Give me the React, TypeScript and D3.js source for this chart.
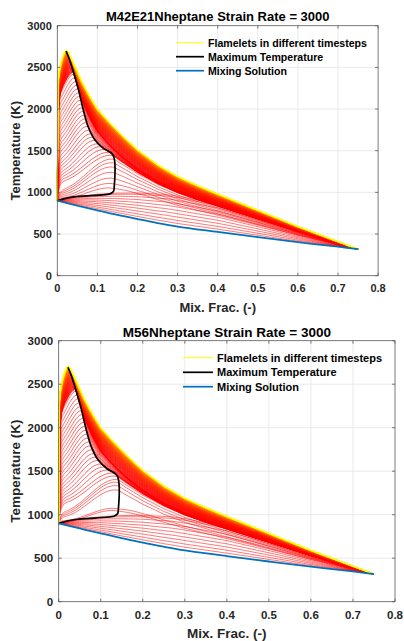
import React from "react";
import * as d3 from "d3";

// ---------- data ----------
// Mixing solution (blue)
const mixZ = [0, 0.05, 0.1, 0.15, 0.2, 0.25, 0.3, 0.4, 0.5, 0.6, 0.7, 0.75];
const mixT = [900, 842, 785, 730, 680, 632, 590, 525, 462, 402, 348, 318];

// Final (steady) flamelet, upper envelope (yellow)
const envZ = [0, 0.0015, 0.004, 0.008, 0.013, 0.018, 0.022, 0.027, 0.035, 0.045, 0.06, 0.08, 0.1, 0.127, 0.16, 0.2, 0.25, 0.3, 0.35, 0.4, 0.5, 0.6, 0.7, 0.75];
const envT = [900, 2300, 2430, 2535, 2625, 2688, 2705, 2690, 2612, 2505, 2340, 2160, 2000, 1855, 1690, 1510, 1330, 1190, 1080, 980, 785, 590, 408, 318];

// Maximum temperature locus (black)
const locusZ = [0, 0.02, 0.045, 0.077, 0.105, 0.131, 0.14, 0.142, 0.142, 0.136, 0.115, 0.094, 0.077, 0.065, 0.053, 0.041, 0.03, 0.022];
const locusT = [900, 928, 948, 958, 968, 982, 1010, 1068, 1408, 1468, 1528, 1628, 1788, 1988, 2228, 2432, 2600, 2695];

// Highest low-temperature flamelet (before ignition)
const lowZ = [0, 0.05, 0.1, 0.15, 0.2, 0.27, 0.3, 0.4, 0.5, 0.6, 0.7, 0.75];
const lowT = [900, 950, 978, 990, 992, 975, 955, 860, 700, 530, 372, 318];
// relative rise of the low-temperature flamelets
const lowScale = [0.1, 0.2, 0.31, 0.42, 0.53, 0.64, 0.75, 0.86, 0.95, 1.0];

// Peak temperatures of ignition flamelets (peak at Z ~ 0.142)
const ignitionPeakT = [
  [1045, 1100, 1165, 1235, 1300, 1350, 1395],
  [1040, 1065, 1280, 1330, 1370, 1400],
];
// Peak temperatures of flamelets whose peak travels to stoichiometry
const travelPeakT = [1440, 1475, 1510, 1545, 1580, 1620, 1660, 1700, 1745, 1790, 1835, 1880, 1925, 1970, 2015, 2060, 2105, 2150, 2195, 2240, 2285, 2330, 2375, 2420];
const settlingCount = 90;

const xTicks = [0, 0.1, 0.2, 0.3, 0.4, 0.5, 0.6, 0.7, 0.8];
const yTicks = [0, 500, 1000, 1500, 2000, 2500, 3000];
const titles = ["M42E21Nheptane Strain Rate = 3000", "M56Nheptane Strain Rate = 3000"];
const legendLabels = ["Flamelets in different timesteps", "Maximum Temperature", "Mixing Solution"];
const xLabel = "Mix. Frac. (-)";
const yLabel = "Temperature (K)";

// ---------- helpers ----------
const mix = d3.scaleLinear().domain(mixZ).range(mixT).clamp(true);
const env = d3.scaleLinear().domain(envZ).range(envT).clamp(true);
const low = d3.scaleLinear().domain(lowZ).range(lowT).clamp(true);
const upperZofT = d3.scaleLinear().domain(locusT.slice(8)).range(locusZ.slice(8)).clamp(true);

const baseGrid = [...d3.range(0, 0.004, 0.00025), ...d3.range(0.004, 0.03, 0.0005), ...d3.range(0.03, 0.75, 0.004), 0.75];
const Zs = 0.022;
const envShape = (u: number) => {
  const z = Math.min(1, u) * Zs;
  return (env(z) - mix(z)) / (env(Zs) - mix(Zs));
};

type Curve = { pts: [number, number][]; color: string; w: number };

function peakCurve(Zp: number, Tp: number, Winf: number, lam: number, m: number, c: number, delta: number): [number, number][] {
  const grid = [...baseGrid.filter((z) => Math.abs(z - Zp) > 1e-6), Zp].sort((a, b) => a - b);
  const wp = (Tp - mix(Zp)) / (env(Zp) - mix(Zp));
  const dp = Tp - mix(Zp);
  return grid.map((z) => {
    let T: number;
    if (z <= Zp) {
      const u = z / Zp;
      const lg = c * (1 - Math.exp(-u / delta)) + (1 - c) * (3 * u * u - 2 * u * u * u);
      const L = (1 - m) * lg + m * envShape(u);
      T = mix(z) + dp * L;
    } else {
      const W = Winf + (wp - Winf) * Math.exp(-(z - Zp) / lam);
      T = mix(z) + (env(z) - mix(z)) * W;
    }
    return [z, T];
  });
}

function buildCurves(chart: number): Curve[] {
  const out: Curve[] = [];
  const red = "#ff0000";
  lowScale.forEach((s) => {
    out.push({ pts: baseGrid.map((z) => [z, mix(z) + s * (low(z) - mix(z))]), color: red, w: 0.55 });
  });
  const ign = ignitionPeakT[chart];
  ign.forEach((Tp, k) => {
    const q = k / (ign.length - 1);
    out.push({ pts: peakCurve(0.142, Tp, 0.45 + 0.23 * q, 0.09, 0, 0.12 + 0.1 * q, 0.04), color: red, w: 0.55 });
  });
  travelPeakT.forEach((Tp, k) => {
    const q = k / (travelPeakT.length - 1);
    out.push({
      pts: peakCurve(upperZofT(Tp), Tp, 0.68 + 0.04 * q, 0.07 - 0.02 * q, 0.35 * q, 0.35 + 0.45 * q, 0.035),
      color: red,
      w: 0.6,
    });
  });
  const col = d3.interpolateRgb("#ff0000", "#ffff00");
  for (let j = 0; j < settlingCount; j++) {
    const t = j / (settlingCount - 1);
    const p = 1 - (1 - t) * (1 - t);
    const Tp = 2440 + 255 * p;
    out.push({
      pts: peakCurve(upperZofT(Tp), Tp, 0.72 + 0.28 * p, 0.05, 0.5 + 0.5 * p, 0.8, 0.06),
      color: col(Math.pow(t, 1.8)),
      w: 0.7,
    });
  }
  out.push({ pts: envZ.map((z, i) => [z, envT[i]]), color: "#ffff00", w: 1.1 });
  return out;
}

type Layout = {
  left: number; right: number; top: number; bottom: number;
  titleY: number; tickFs: number; labelFs: number; titleFs: number;
  xTickY: number; xLabelY: number; yLabelX: number;
  leg: { x0: number; x1: number; tx: number; ys: number[]; fs: number };
};

const layouts: Layout[] = [
  {
    left: 57.3, right: 378.1, top: 25.7, bottom: 275.7,
    titleY: 20.6, tickFs: 11, labelFs: 13, titleFs: 13,
    xTickY: 292, xLabelY: 311.8, yLabelX: 19.5,
    leg: { x0: 176, x1: 204, tx: 208, ys: [42.7, 56.7, 70.7], fs: 10.6 },
  },
  {
    left: 58.7, right: 395, top: 340.7, bottom: 601.7,
    titleY: 336.5, tickFs: 11.5, labelFs: 13.5, titleFs: 13.5,
    xTickY: 619.2, xLabelY: 637.5, yLabelX: 20,
    leg: { x0: 183, x1: 213, tx: 217, ys: [357.7, 372.3, 386.7], fs: 11 },
  },
];

const FONT = "'Liberation Sans', Arial, Helvetica, sans-serif";
const TXT = "#262626";

function Chart({ idx }: { idx: number }) {
  const L = layouts[idx];
  const x = d3.scaleLinear().domain([0, 0.8]).range([L.left, L.right]);
  const y = d3.scaleLinear().domain([0, 3000]).range([L.bottom, L.top]);
  const line = d3.line<[number, number]>().x((d) => x(d[0])).y((d) => y(d[1]));
  const smooth = d3.line<[number, number]>().x((d) => x(d[0])).y((d) => y(d[1])).curve(d3.curveCatmullRom.alpha(0.5));
  const curves = buildCurves(idx);
  const mixPts: [number, number][] = mixZ.map((z, i) => [z, mixT[i]]);
  const locPts: [number, number][] = locusZ.map((z, i) => [z, locusT[i]]);
  const tl = 3;
  const cx = (L.left + L.right) / 2;
  const cy = (L.top + L.bottom) / 2;
  return (
    <g fontFamily={FONT} fontWeight="bold">
      <rect x={L.left} y={L.top} width={L.right - L.left} height={L.bottom - L.top} fill="#fff" />
      {xTicks.slice(1, -1).map((t) => (
        <line key={"gx" + t} x1={x(t)} x2={x(t)} y1={L.top} y2={L.bottom} stroke="#e4e4e4" strokeWidth={0.8} />
      ))}
      {yTicks.slice(1, -1).map((t) => (
        <line key={"gy" + t} x1={L.left} x2={L.right} y1={y(t)} y2={y(t)} stroke="#e4e4e4" strokeWidth={0.8} />
      ))}
      {curves.map((c, i) => (
        <path key={i} d={line(c.pts) || ""} fill="none" stroke={c.color} strokeWidth={c.w} />
      ))}
      <path d={smooth(locPts) || ""} fill="none" stroke="#000" strokeWidth={1.7} strokeLinejoin="round" />
      <path d={smooth(mixPts) || ""} fill="none" stroke="#0072bd" strokeWidth={1.8} />
      <rect x={L.left} y={L.top} width={L.right - L.left} height={L.bottom - L.top} fill="none" stroke="#5a5a5a" strokeWidth={0.8} />
      {xTicks.map((t) => (
        <g key={"tx" + t}>
          <line x1={x(t)} x2={x(t)} y1={L.bottom} y2={L.bottom - tl} stroke="#5a5a5a" strokeWidth={0.8} />
          <line x1={x(t)} x2={x(t)} y1={L.top} y2={L.top + tl} stroke="#5a5a5a" strokeWidth={0.8} />
          <text x={x(t)} y={L.xTickY} textAnchor="middle" fontSize={L.tickFs} fill={TXT}>{t === 0 ? "0" : String(t)}</text>
        </g>
      ))}
      {yTicks.map((t) => (
        <g key={"ty" + t}>
          <line x1={L.left} x2={L.left + tl} y1={y(t)} y2={y(t)} stroke="#5a5a5a" strokeWidth={0.8} />
          <line x1={L.right} x2={L.right - tl} y1={y(t)} y2={y(t)} stroke="#5a5a5a" strokeWidth={0.8} />
          <text x={L.left - 5.5} y={y(t)} dy="0.36em" textAnchor="end" fontSize={L.tickFs} fill={TXT}>{t}</text>
        </g>
      ))}
      <text x={cx} y={L.titleY} textAnchor="middle" fontSize={L.titleFs} fill="#000">{titles[idx]}</text>
      <text x={cx} y={L.xLabelY} textAnchor="middle" fontSize={L.labelFs} fill={TXT}>{xLabel}</text>
      <text transform={`translate(${L.yLabelX},${cy}) rotate(-90)`} textAnchor="middle" fontSize={L.labelFs} fill={TXT}>{yLabel}</text>
      {legendLabels.map((lab, i) => (
        <g key={lab}>
          <line x1={L.leg.x0} x2={L.leg.x1} y1={L.leg.ys[i]} y2={L.leg.ys[i]}
            stroke={i === 0 ? "#ffff00" : i === 1 ? "#000" : "#0072bd"} strokeWidth={i === 0 ? 1 : 1.7} />
          <text x={L.leg.tx} y={L.leg.ys[i]} dy="0.36em" fontSize={L.leg.fs} fill="#000">{lab}</text>
        </g>
      ))}
    </g>
  );
}

export default function App() {
  return (
    <svg width={404} height={641} style={{ position: "absolute", left: 0, top: 0, background: "#fff" }}>
      <rect width={404} height={641} fill="#fff" />
      <Chart idx={0} />
      <Chart idx={1} />
    </svg>
  );
}
